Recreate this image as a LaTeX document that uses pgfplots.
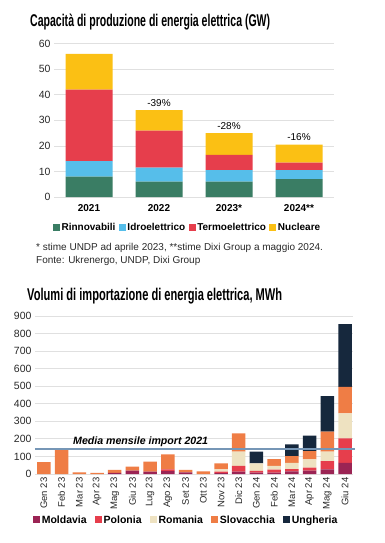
\documentclass[border=0pt]{standalone}
\usepackage{fontspec}
\setmainfont{Liberation Sans}
\usepackage{graphicx}
\usepackage{pgfplots}
\usepackage{pgfplotstable}
\pgfplotsset{compat=1.18}
\definecolor{cRin}{RGB}{58,125,100}
\definecolor{cIdro}{RGB}{86,190,234}
\definecolor{cTermo}{RGB}{230,62,76}
\definecolor{cNuc}{RGB}{251,192,20}
\definecolor{cMol}{RGB}{155,36,84}
\definecolor{cPol}{RGB}{230,62,76}
\definecolor{cRom}{RGB}{238,226,193}
\definecolor{cSlo}{RGB}{239,125,69}
\definecolor{cUng}{RGB}{22,40,61}
\definecolor{cLine}{RGB}{118,150,182}
\definecolor{cGrid}{RGB}{224,224,224}
\definecolor{cTxt}{RGB}{40,40,40}

\pgfplotstableread{
x rin idro termo nuc
0 8 6 28 14
1 6 5.5 14.5 8
2 6 4.5 6 8.5
3 7 3.5 3 7
}\capacity

\pgfplotstableread{
x mol pol rom slo ung
0 0 0 0 67 0
1 0 0 0 136 0
2 0 0 0 10 0
3 0 0 0 6 0
4 6 0 0 17 0
5 19 0 0 23 0
6 13 0 0 57 0
7 17 10 0 85 0
8 10 0 0 13 0
9 0 0 0 15 0
10 5 9 13 34 0
11 13 34 80 105 0
12 8 10 43 0 66
13 8 17 22 38 0
14 15 13 36 38 67
15 19 17 48 47 87
16 27 47 53 114 203
17 64 139 143 151 357
}\imports

\pgfplotstableread{
x y
-0.5 140
17.55 140
}\meanline

\pgfplotsset{
  common/.style={
    scale only axis, ybar stacked,
    axis line style={draw=none}, major tick length=0pt,
    ymajorgrids, grid style={cGrid, line width=0.8pt},
    /pgf/number format/assume math mode=true,
    yticklabel style={font=\fontsize{10.5}{12}\selectfont, text=cTxt},
    clip=false,
    legend image code/.code={\fill[##1] (0pt,-3.5pt) rectangle (7pt,3.5pt);},
    legend style={draw=none, fill=none, inner sep=0pt, legend columns=-1,
      font=\bfseries\fontsize{10}{12}\selectfont,
      nodes={inner sep=1.5pt}},
  }
}

\begin{document}
\begin{tikzpicture}
\path[use as bounding box] (0pt,0pt) rectangle (385pt,-543pt);

\node[anchor=base west, inner sep=0pt] at (30pt,-26.7pt) {\resizebox{240pt}{\height}{\bfseries\fontsize{17}{20}\selectfont Capacità di produzione di energia elettrica (GW)}};

\begin{axis}[common,
  at={(54pt,-197pt)}, anchor=south west, width=280pt, height=153.3pt,
  bar width=47pt,
  xmin=-0.5, xmax=3.5, ymin=0, ymax=60,
  ytick={0,10,...,60}, xtick={0,1,2,3}, xticklabels={2021,2022,2023*,2024**},
  xticklabel style={font=\bfseries\fontsize{10}{12}\selectfont, text=black, yshift=-4pt},
  legend style={at={(axis description cs:-0.004,-0.202)}, anchor=west,
    /tikz/every even column/.append style={column sep=2pt}},
]
\addplot[fill=cRin, draw=none] table[x=x, y=rin] {\capacity};
\addlegendentry{Rinnovabili}
\addplot[fill=cIdro, draw=none] table[x=x, y=idro] {\capacity};
\addlegendentry{Idroelettrico}
\addplot[fill=cTermo, draw=none] table[x=x, y=termo] {\capacity};
\addlegendentry{Termoelettrico}
\addplot[fill=cNuc, draw=none] table[x=x, y=nuc] {\capacity};
\addlegendentry{Nucleare}
\node[anchor=south, inner sep=0pt, yshift=3.5pt, font=\fontsize{10}{12}\selectfont] at (axis cs:1,34) {-39\%};
\node[anchor=south, inner sep=0pt, yshift=3.5pt, font=\fontsize{10}{12}\selectfont] at (axis cs:2,25) {-28\%};
\node[anchor=south, inner sep=0pt, yshift=3.5pt, font=\fontsize{10}{12}\selectfont] at (axis cs:3,20.5) {-16\%};
\end{axis}

\node[anchor=base west, inner sep=0pt, font=\fontsize{10}{12}\selectfont, text=cTxt] at (36pt,-250.3pt) {* stime UNDP ad aprile 2023, **stime Dixi Group a maggio 2024.};
\node[anchor=base west, inner sep=0pt, font=\fontsize{10}{12}\selectfont, text=cTxt] at (36pt,-263.3pt) {Fonte: Ukrenergo, UNDP, Dixi Group};

\node[anchor=base west, inner sep=0pt] at (27pt,-300.7pt) {\resizebox{255pt}{\height}{\bfseries\fontsize{17}{20}\selectfont Volumi di importazione di energia elettrica, MWh}};

\begin{axis}[common,
  at={(35pt,-474pt)}, anchor=south west, width=318pt, height=158pt,
  bar width=13.5pt,
  xmin=-0.5, xmax=17.45, ymin=0, ymax=900,
  ytick={0,100,...,900}, xtick={0,...,17},
  xticklabels={Gen 23,Feb 23,Mar 23,Apr 23,Mag 23,Giu 23,Lug 23,Ago 23,Set 23,Ott 23,Nov 23,Dic 23,Gen 24,Feb 24,Mar 24,Apr 24,Mag 24,Giu 24},
  xticklabel style={rotate=90, anchor=east, font=\fontsize{9.5}{11}\selectfont, text=cTxt},
  legend style={at={(axis description cs:-0.006,-0.291)}, anchor=west, font=\bfseries\fontsize{10.5}{12}\selectfont, /tikz/every even column/.append style={column sep=7pt}},
]
\addplot[fill=cMol, draw=none] table[x=x, y=mol] {\imports};
\addlegendentry{Moldavia}
\addplot[fill=cPol, draw=none] table[x=x, y=pol] {\imports};
\addlegendentry{Polonia}
\addplot[fill=cRom, draw=none] table[x=x, y=rom] {\imports};
\addlegendentry{Romania}
\addplot[fill=cSlo, draw=none] table[x=x, y=slo] {\imports};
\addlegendentry{Slovacchia}
\addplot[fill=cUng, draw=none] table[x=x, y=ung] {\imports};
\addlegendentry{Ungheria}
\end{axis}

\begin{axis}[scale only axis, at={(35pt,-474pt)}, anchor=south west, width=318pt, height=158pt,
  xmin=-0.5, xmax=17.45, ymin=0, ymax=900, axis lines=none, clip=false]
\addplot[draw=cLine, line width=2pt, no marks] table[x=x, y=y] {\meanline};
\end{axis}
\node[anchor=base west, inner sep=0pt, font=\bfseries\itshape\fontsize{10.6}{12}\selectfont] at (73pt,-444pt) {Media mensile import 2021};
\end{tikzpicture}
\end{document}
